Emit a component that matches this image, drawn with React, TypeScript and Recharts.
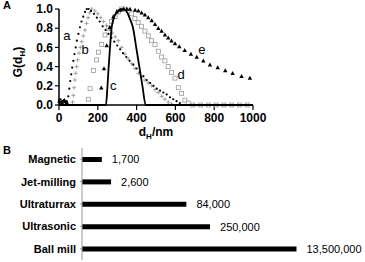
import { ScatterChart, Scatter, XAxis, YAxis, ReferenceDot, Label, BarChart, Bar, LabelList } from 'recharts';

const FONT = '"Liberation Sans", Arial, sans-serif';

// panel A: size distributions G(dH), dH in nm
const seriesA = [
    { x: 0, y: 0.05 }, { x: 4, y: 0.02 }, { x: 8, y: 0.06 }, { x: 12, y: 0.03 }, { x: 16, y: 0.04 },
    { x: 20, y: 0.02 }, { x: 25, y: 0.05 }, { x: 30, y: 0.03 }, { x: 35, y: 0.02 }, { x: 40, y: 0.04 },
    { x: 48, y: 0.09 }, { x: 53, y: 0.17 }, { x: 58, y: 0.25 }, { x: 63, y: 0.32 }, { x: 68, y: 0.39 },
    { x: 74, y: 0.46 }, { x: 80, y: 0.53 }, { x: 86, y: 0.6 }, { x: 92, y: 0.67 }, { x: 100, y: 0.74 },
    { x: 108, y: 0.81 }, { x: 116, y: 0.87 }, { x: 125, y: 0.92 }, { x: 134, y: 0.97 }, { x: 143, y: 1.0 },
    { x: 152, y: 1.0 }, { x: 165, y: 0.98 }, { x: 180, y: 0.95 }, { x: 195, y: 0.91 }, { x: 210, y: 0.87 },
    { x: 225, y: 0.82 }, { x: 240, y: 0.78 }, { x: 255, y: 0.74 }, { x: 270, y: 0.7 }, { x: 285, y: 0.66 },
    { x: 300, y: 0.62 }, { x: 315, y: 0.58 }, { x: 330, y: 0.54 }, { x: 347, y: 0.5 }, { x: 364, y: 0.46 },
    { x: 383, y: 0.42 }, { x: 400, y: 0.38 }, { x: 418, y: 0.34 }, { x: 435, y: 0.3 }, { x: 452, y: 0.26 },
    { x: 470, y: 0.23 }, { x: 487, y: 0.2 }, { x: 504, y: 0.17 }, { x: 521, y: 0.15 }, { x: 538, y: 0.13 },
    { x: 555, y: 0.11 }, { x: 572, y: 0.08 }, { x: 589, y: 0.06 }, { x: 606, y: 0.04 }, { x: 623, y: 0.02 },
];

const seriesB = [
    { x: 70, y: 0.03 }, { x: 74, y: 0.1 }, { x: 78, y: 0.18 }, { x: 82, y: 0.26 }, { x: 86, y: 0.33 },
    { x: 91, y: 0.4 }, { x: 96, y: 0.47 }, { x: 103, y: 0.54 }, { x: 110, y: 0.6 }, { x: 117, y: 0.66 },
    { x: 125, y: 0.72 }, { x: 134, y: 0.78 }, { x: 142, y: 0.85 }, { x: 150, y: 0.91 }, { x: 158, y: 0.96 },
    { x: 168, y: 1.0 }, { x: 185, y: 0.98 }, { x: 200, y: 0.95 }, { x: 215, y: 0.91 }, { x: 230, y: 0.87 },
    { x: 245, y: 0.83 }, { x: 260, y: 0.79 }, { x: 275, y: 0.75 }, { x: 290, y: 0.71 }, { x: 306, y: 0.67 },
    { x: 323, y: 0.6 }, { x: 340, y: 0.53 }, { x: 357, y: 0.48 }, { x: 375, y: 0.43 }, { x: 392, y: 0.38 },
    { x: 409, y: 0.33 }, { x: 426, y: 0.29 }, { x: 443, y: 0.26 }, { x: 460, y: 0.23 }, { x: 478, y: 0.2 },
    { x: 495, y: 0.16 }, { x: 512, y: 0.13 }, { x: 529, y: 0.09 }, { x: 546, y: 0.06 }, { x: 563, y: 0.03 },
    { x: 580, y: 0.01 },
];

const seriesC = [
    { x: 0, y: 0 }, { x: 242, y: 0 }, { x: 250, y: 0.2 }, { x: 256, y: 0.4 }, { x: 263, y: 0.6 },
    { x: 271, y: 0.8 }, { x: 285, y: 0.92 }, { x: 300, y: 0.97 }, { x: 315, y: 0.995 }, { x: 331, y: 1.0 },
    { x: 350, y: 0.97 }, { x: 365, y: 0.9 }, { x: 382, y: 0.8 }, { x: 398, y: 0.6 }, { x: 414, y: 0.4 },
    { x: 430, y: 0.2 }, { x: 447, y: 0 }, { x: 1000, y: 0 },
];

const seriesD = [
    { x: 151, y: 0.06 }, { x: 160, y: 0.17 }, { x: 177, y: 0.36 }, { x: 194, y: 0.47 }, { x: 203, y: 0.55 },
    { x: 220, y: 0.63 }, { x: 237, y: 0.73 }, { x: 254, y: 0.8 }, { x: 271, y: 0.87 }, { x: 289, y: 0.92 },
    { x: 306, y: 0.97 }, { x: 323, y: 1.0 }, { x: 340, y: 1.0 }, { x: 357, y: 0.98 }, { x: 374, y: 0.95 },
    { x: 391, y: 0.9 }, { x: 408, y: 0.86 }, { x: 425, y: 0.82 }, { x: 443, y: 0.77 }, { x: 460, y: 0.72 },
    { x: 477, y: 0.67 }, { x: 495, y: 0.63 }, { x: 512, y: 0.56 }, { x: 529, y: 0.5 }, { x: 546, y: 0.46 },
    { x: 563, y: 0.4 }, { x: 580, y: 0.34 }, { x: 598, y: 0.28 }, { x: 615, y: 0.18 }, { x: 632, y: 0.12 },
    { x: 649, y: 0.05 }, { x: 666, y: 0.02 }, { x: 690, y: 0 }, { x: 730, y: 0 }, { x: 770, y: 0 },
    { x: 810, y: 0 }, { x: 850, y: 0 }, { x: 890, y: 0 }, { x: 930, y: 0 }, { x: 970, y: 0 },
];

const seriesE = [
    { x: 2, y: 0.04 }, { x: 15, y: 0.02 }, { x: 28, y: 0.05 }, { x: 42, y: 0.02 },
    { x: 218, y: 0.18 }, { x: 232, y: 0.38 }, { x: 246, y: 0.62 }, { x: 262, y: 0.81 }, { x: 280, y: 0.92 },
    { x: 298, y: 0.97 }, { x: 316, y: 0.99 }, { x: 334, y: 1.0 }, { x: 350, y: 1.0 }, { x: 366, y: 1.0 },
    { x: 392, y: 0.99 }, { x: 409, y: 0.98 }, { x: 426, y: 0.96 }, { x: 443, y: 0.94 }, { x: 460, y: 0.91 },
    { x: 478, y: 0.88 }, { x: 495, y: 0.84 }, { x: 512, y: 0.8 }, { x: 529, y: 0.77 }, { x: 546, y: 0.73 },
    { x: 563, y: 0.7 }, { x: 580, y: 0.67 }, { x: 598, y: 0.64 }, { x: 620, y: 0.61 }, { x: 648, y: 0.57 },
    { x: 680, y: 0.53 }, { x: 710, y: 0.5 }, { x: 744, y: 0.46 }, { x: 778, y: 0.42 }, { x: 818, y: 0.39 },
    { x: 857, y: 0.36 }, { x: 895, y: 0.33 }, { x: 941, y: 0.3 }, { x: 984, y: 0.28 },
];

const curveLabels = [
    { name: 'a', x: 40, y: 0.72 },
    { name: 'b', x: 134, y: 0.57 },
    { name: 'c', x: 280, y: 0.2 },
    { name: 'd', x: 629, y: 0.31 },
    { name: 'e', x: 736, y: 0.57 },
];

const xTicks = [0, 200, 400, 600, 800, 1000];
const yTicks = [0, 0.2, 0.4, 0.6, 0.8, 1.0];

// panel B: dispersion methods
const methods = ['Magnetic', 'Jet-milling', 'Ultraturrax', 'Ultrasonic', 'Ball mill'];
const methodValues = [1700, 2600, 84000, 250000, 13500000];

const barRows = methods.map((name, i) => ({ name, value: methodValues[i] }));

const Dot = ({ cx, cy }: any) => <circle cx={cx} cy={cy} r={1.1} fill="#000" />;

const Plus = ({ cx, cy }: any) => (
    <g stroke="#999" strokeWidth={0.9}>
        <line x1={cx - 2} y1={cy} x2={cx + 2} y2={cy} />
        <line x1={cx} y1={cy - 2} x2={cx} y2={cy + 2} />
    </g>
);

const Square = ({ cx, cy }: any) => (
    <rect x={cx - 2} y={cy - 2} width={4} height={4} fill="#fff" stroke="#999" strokeWidth={0.8} />
);

const Triangle = ({ cx, cy }: any) => (
    <polygon points={`${cx},${cy - 2.3} ${cx - 2.2},${cy + 1.7} ${cx + 2.2},${cy + 1.7}`} fill="#000" />
);

const Nothing = () => <g />;

const tickStyle = { fontFamily: FONT, fontSize: 12, fontWeight: 700, fill: '#000' };

function YTitle({ viewBox }: any) {
    const cx = 22;
    const cy = viewBox.y + viewBox.height / 2 + 5;
    return (
        <text x={cx} y={cy} transform={`rotate(-90 ${cx} ${cy})`} textAnchor="middle"
            fontFamily={FONT} fontSize={12} fontWeight={700} fill="#000">
            G(d<tspan fontSize={8} dy={3}>H</tspan><tspan dy={-3}>)</tspan>
        </text>
    );
}

function XTitle({ viewBox }: any) {
    const cx = viewBox.x + viewBox.width / 2;
    return (
        <text x={cx} y={136} textAnchor="middle" fontFamily={FONT} fontSize={12} fontWeight={700} fill="#000">
            d<tspan fontSize={8} dy={3}>H</tspan><tspan dy={-3}>/nm</tspan>
        </text>
    );
}

function CurveTag({ viewBox, value }: any) {
    return (
        <text x={viewBox.x} y={viewBox.y + 4} textAnchor="middle" fontFamily={FONT} fontSize={13} fill="#000">
            {value}
        </text>
    );
}

function DistributionChart() {
    return (
        <ScatterChart width={365} height={145} margin={{ top: 9, right: 112, left: 0, bottom: 5 }}>
            <XAxis type="number" dataKey="x" domain={[0, 1000]} ticks={xTicks} height={35}
                axisLine={{ stroke: '#000', strokeWidth: 1.5 }} tickLine={{ stroke: '#000', strokeWidth: 1.2 }}
                tickSize={5} tickMargin={3} tick={tickStyle} interval={0}>
                <Label content={XTitle} />
            </XAxis>
            <YAxis type="number" dataKey="y" domain={[0, 1]} ticks={yTicks} width={59}
                tickFormatter={(v: number) => v.toFixed(1)}
                axisLine={{ stroke: '#000', strokeWidth: 1.5 }} tickLine={{ stroke: '#000', strokeWidth: 1.2 }}
                tickSize={4} tickMargin={2} tick={tickStyle} interval={0}>
                <Label content={YTitle} />
            </YAxis>
            <Scatter data={seriesD} shape={Square} isAnimationActive={false} />
            <Scatter data={seriesB} shape={Plus} isAnimationActive={false} />
            <Scatter data={seriesA} shape={Dot} isAnimationActive={false} />
            <Scatter data={seriesE} shape={Triangle} isAnimationActive={false} />
            <Scatter data={seriesC} shape={Nothing} line={{ stroke: '#000', strokeWidth: 1.8 }}
                lineJointType="monotoneX" isAnimationActive={false} />
            {curveLabels.map((c) => (
                <ReferenceDot key={c.name} x={c.x} y={c.y} r={0} ifOverflow="visible"
                    label={<Label value={c.name} content={CurveTag} />} />
            ))}
        </ScatterChart>
    );
}

function MethodsChart() {
    return (
        <BarChart layout="vertical" width={365} height={122} data={barRows}
            margin={{ top: 8, right: 60, left: 0, bottom: 2 }}>
            <XAxis type="number" scale="log" domain={[680, 20000000]} hide allowDataOverflow />
            <YAxis type="category" dataKey="name" width={82} interval={0}
                axisLine={{ stroke: '#999' }} tickLine={{ stroke: '#999' }} tickSize={2} tickMargin={4}
                tick={{ fontFamily: FONT, fontSize: 11, fontWeight: 700, fill: '#000' }} />
            <Bar dataKey="value" fill="#000" barSize={5} isAnimationActive={false}>
                <LabelList dataKey="value" position="right" offset={10}
                    formatter={(v: number) => v.toLocaleString('en-US')}
                    style={{ fontFamily: FONT, fontSize: 11, fill: '#000' }} />
            </Bar>
        </BarChart>
    );
}

export default function App() {
    return (
        <div style={{ position: 'absolute', left: 0, top: 0, width: 365, height: 262, background: '#fff', fontFamily: FONT }}>
            <div style={{ position: 'absolute', left: 0, top: 140 }}>
                <MethodsChart />
            </div>
            <div style={{ position: 'absolute', left: 0, top: 0 }}>
                <DistributionChart />
            </div>
            <div style={{ position: 'absolute', left: 3, top: 0, fontSize: 11, lineHeight: '11px', fontWeight: 700 }}>A</div>
            <div style={{ position: 'absolute', left: 3, top: 145, fontSize: 11, lineHeight: '11px', fontWeight: 700 }}>B</div>
        </div>
    );
}
